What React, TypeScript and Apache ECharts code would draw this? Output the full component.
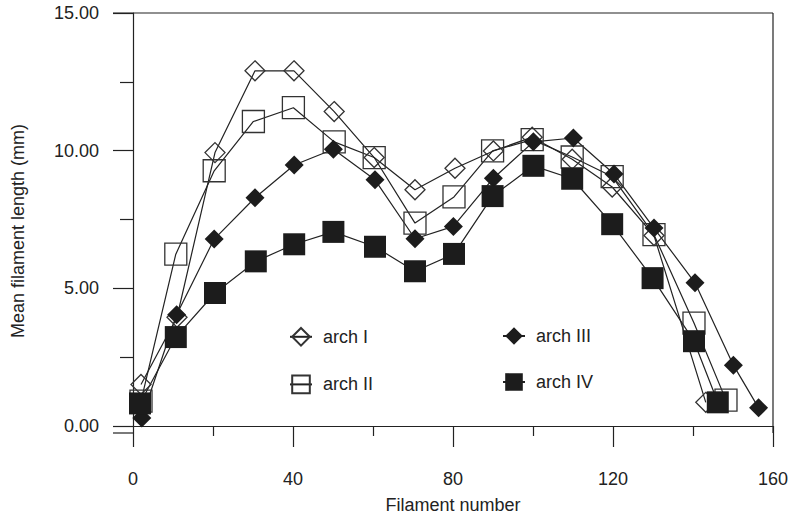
import React, { useEffect, useRef } from "react";
import * as echarts from "echarts";

const archIx = [2, 11, 20.5, 30.5, 40.25, 50.3, 60.3, 70.5, 80.5, 90.1, 99.8, 109.8, 119.8, 130.25, 143.2];
const archIy = [1.51, 3.95, 9.93, 12.9, 12.9, 11.42, 9.75, 8.58, 9.36, 9.99, 10.49, 9.69, 8.68, 6.92, 0.86];

const archIIx = [2, 10.7, 20.3, 30.1, 40.1, 50.3, 60.3, 70.5, 80.25, 89.9, 99.8, 109.8, 119.8, 130.25, 140.25, 148.25];
const archIIy = [0.9, 6.24, 9.27, 11.06, 11.56, 10.32, 9.75, 7.37, 8.32, 9.99, 10.4, 9.77, 9.06, 6.95, 3.74, 0.94];

const archIIIx = [2.2, 10.9, 20.3, 30.5, 40.3, 50.1, 60.5, 70.5, 80.1, 90.1, 100.1, 110.1, 120.25, 130.25, 140.5, 150.1, 156.4];
const archIIIy = [0.29, 4.04, 6.79, 8.29, 9.48, 10.05, 8.94, 6.8, 7.25, 9.0, 10.32, 10.46, 9.15, 7.19, 5.2, 2.21, 0.66];

const archIVx = [1.75, 10.7, 20.5, 30.7, 40.3, 50.1, 60.5, 70.5, 80.25, 89.9, 100.1, 109.8, 119.8, 129.9, 140.25, 146.2];
const archIVy = [0.82, 3.23, 4.83, 5.98, 6.6, 7.05, 6.51, 5.62, 6.25, 8.35, 9.45, 8.98, 7.33, 5.37, 3.08, 0.86];

const seriesNames = ["arch I", "arch II", "arch III", "arch IV"];
const xAxisTitle = "Filament number";
const yAxisTitle = "Mean filament length (mm)";

const FONT = "'Liberation Sans', Arial, sans-serif";
const INK = "#222";
const FS = 18;

function pairs(xs: number[], ys: number[]) {
  return xs.map((x, i) => [x, ys[i]]);
}

export default function App() {
  const ref = useRef<HTMLDivElement>(null);
  useEffect(() => {
    document.body.style.margin = "0";
    const chart = echarts.init(ref.current!, null, { renderer: "svg" });
    const openStyle = { color: "rgba(0,0,0,0)", borderColor: "#333", borderWidth: 1.3 };
    const fillStyle = { color: "#1c1c1c", borderColor: "#1c1c1c", borderWidth: 0 };
    const lineStyle = { color: INK, width: 1.2 };
    const gridLeft = 133, gridTop = 13, gridW = 640, gridH = 420;
    const legendText = { fontSize: FS, color: INK, fontFamily: FONT, padding: [0, 0, 0, 6] };
    chart.setOption({
      animation: false,
      textStyle: { fontFamily: FONT },
      grid: { left: gridLeft, top: gridTop, width: gridW, height: gridH },
      xAxis: {
        type: "value",
        min: 0,
        max: 160,
        interval: 40,
        name: xAxisTitle,
        nameLocation: "middle",
        nameGap: 70,
        nameTextStyle: { fontSize: FS, color: INK, fontFamily: FONT },
        axisLine: { show: true, lineStyle: { color: INK, width: 1.2 } },
        axisTick: { show: true, inside: false, length: 21, lineStyle: { color: INK, width: 1.2 } },
        minorTick: { show: true, splitNumber: 2, length: 10, lineStyle: { color: INK, width: 1.2 } },
        splitLine: { show: false },
        axisLabel: { fontSize: FS, color: INK, margin: 44, fontFamily: FONT },
      },
      yAxis: {
        type: "value",
        min: 0,
        max: 15,
        interval: 5,
        axisLine: { show: true, lineStyle: { color: INK, width: 1.2 } },
        axisTick: { show: true, inside: false, length: 20, lineStyle: { color: INK, width: 1.2 } },
        minorTick: { show: true, splitNumber: 2, length: 13, lineStyle: { color: INK, width: 1.2 } },
        splitLine: { show: false },
        axisLabel: {
          fontSize: FS,
          color: INK,
          margin: 34,
          fontFamily: FONT,
          formatter: (v: number) => v.toFixed(2),
        },
      },
      legend: [
        {
          data: [seriesNames[0], seriesNames[1]],
          orient: "vertical",
          left: 284,
          top: 322,
          itemWidth: 22,
          itemHeight: 22,
          itemGap: 28,
          textStyle: legendText,
        },
        {
          data: [seriesNames[2], seriesNames[3]],
          orient: "vertical",
          left: 497,
          top: 322,
          itemWidth: 22,
          itemHeight: 22,
          itemGap: 28,
          textStyle: legendText,
        },
      ],
      graphic: [
        {
          type: "line",
          shape: { x1: gridLeft - 20, y1: gridTop, x2: gridLeft + gridW, y2: gridTop },
          style: { stroke: INK, lineWidth: 1.2 },
        },
        {
          type: "line",
          shape: { x1: gridLeft + gridW, y1: gridTop, x2: gridLeft + gridW, y2: gridTop + gridH },
          style: { stroke: INK, lineWidth: 1.2 },
        },
        {
          type: "line",
          shape: { x1: gridLeft - 20, y1: gridTop + gridH, x2: gridLeft, y2: gridTop + gridH },
          style: { stroke: INK, lineWidth: 1.2 },
        },
        {
          type: "text",
          x: 18,
          y: 231,
          rotation: Math.PI / 2,
          style: {
            text: yAxisTitle,
            fontSize: FS,
            fontFamily: FONT,
            fill: INK,
            textAlign: "center",
            textVerticalAlign: "middle",
          },
        },
      ],
      series: [
        {
          name: seriesNames[0],
          type: "line",
          data: pairs(archIx, archIy),
          symbol: "diamond",
          symbolSize: 20,
          itemStyle: openStyle,
          lineStyle,
          clip: false,
        },
        {
          name: seriesNames[1],
          type: "line",
          data: pairs(archIIx, archIIy),
          symbol: "rect",
          symbolSize: 22,
          itemStyle: openStyle,
          lineStyle,
          clip: false,
        },
        {
          name: seriesNames[2],
          type: "line",
          data: pairs(archIIIx, archIIIy),
          symbol: "diamond",
          symbolSize: 19,
          itemStyle: fillStyle,
          lineStyle,
          clip: false,
        },
        {
          name: seriesNames[3],
          type: "line",
          data: pairs(archIVx, archIVy),
          symbol: "rect",
          symbolSize: 22,
          itemStyle: fillStyle,
          lineStyle,
          clip: false,
        },
      ],
    });
    return () => chart.dispose();
  }, []);
  return <div ref={ref} style={{ width: 791, height: 519 }} />;
}
